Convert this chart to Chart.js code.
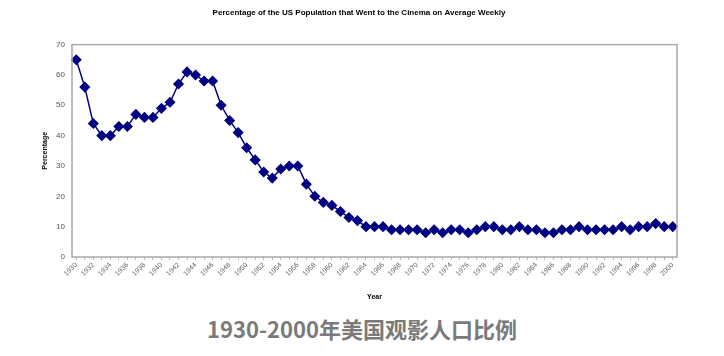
<!DOCTYPE html>
<html>
<head>
<meta charset="utf-8">
<script src="https://cdn.jsdelivr.net/npm/chart.js@4"></script>
<style>
  html, body { margin: 0; padding: 0; background: #fff; }
  #wrap { position: absolute; left: 0; top: 0; width: 724px; height: 305px; }
  #caption { position: absolute; left: 0; top: 312px; width: 724px; text-align: center; line-height: 32px;
    font-family: "Noto Sans CJK SC", "Noto Sans", sans-serif; font-weight: bold; font-size: 22px; color: #7a7a7a; }
</style>
</head>
<body>
<div id="wrap"><canvas id="c" width="724" height="305"></canvas></div>
<div id="caption">1930-2000年美国观影人口比例</div>
<script>
const years = [];
for (let y = 1930; y <= 2000; y++) years.push(String(y));
const percentage = [
  65, 56, 44, 40, 40, 43, 43, 47, 46, 46,
  49, 51, 57, 61, 60, 58, 58, 50, 45, 41,
  36, 32, 28, 26, 29, 30, 30, 24, 20, 18,
  17, 15, 13, 12, 10, 10, 10, 9, 9, 9,
  9, 8, 9, 8, 9, 9, 8, 9, 10, 10,
  9, 9, 10, 9, 9, 8, 8, 9, 9, 10,
  9, 9, 9, 9, 10, 9, 10, 10, 11, 10,
  10
];
const yTicks = [0, 10, 20, 30, 40, 50, 60, 70];
const chartTitle = 'Percentage of the US Population that Went to the Cinema on Average Weekly';

const boxPlugin = {
  id: 'box',
  afterDraw(chart) {
    const a = chart.chartArea, ctx = chart.ctx;
    ctx.save();
    ctx.strokeStyle = '#a8a8a8';
    ctx.lineWidth = 1.5;
    ctx.strokeRect(a.left, a.top, a.right - a.left, a.bottom - a.top);
    ctx.restore();
  }
};

new Chart(document.getElementById('c'), {
  type: 'line',
  data: {
    labels: years,
    datasets: [{
      data: percentage,
      borderColor: '#000080',
      backgroundColor: '#000080',
      borderWidth: 1.5,
      pointStyle: 'rectRot',
      pointRadius: 4.5,
      pointHoverRadius: 4.5,
      tension: 0
    }]
  },
  plugins: [boxPlugin],
  options: {
    responsive: false,
    animation: false,
    layout: { padding: { left: 41, right: 47, top: 0, bottom: 4 } },
    plugins: {
      legend: { display: false },
      tooltip: { enabled: false },
      title: {
        display: true,
        text: chartTitle,
        color: '#000',
        font: { family: 'Liberation Sans, Arial, sans-serif', size: 8, weight: 'bold' },
        padding: { top: 8, bottom: 27 }
      }
    },
    scales: {
      x: {
        type: 'category',
        offset: true,
        grid: { display: true, drawOnChartArea: false, tickLength: 3, color: '#bbb' },
        border: { display: false },
        ticks: {
          autoSkip: false,
          maxRotation: 45,
          minRotation: 45,
          padding: 1,
          color: '#666',
          font: { family: 'Liberation Sans, Arial, sans-serif', size: 7 },
          callback: function(v, i) { return i % 2 === 0 ? this.getLabelForValue(v) : ''; }
        },
        title: {
          display: true, text: 'Year', color: '#000',
          font: { family: 'Liberation Sans, Arial, sans-serif', size: 7, weight: 'bold' },
          padding: { top: 0, bottom: 0 }
        },
        afterFit(s) { s.height = 44; }
      },
      y: {
        min: 0, max: 70,
        afterBuildTicks(s) { s.ticks = yTicks.map(v => ({ value: v })); },
        grid: { display: false, tickLength: 0 },
        border: { display: false },
        ticks: {
          color: '#555',
          padding: 7,
          font: { family: 'Liberation Sans, Arial, sans-serif', size: 8 }
        },
        title: {
          display: true, text: 'Percentage', color: '#000',
          font: { family: 'Liberation Sans, Arial, sans-serif', size: 7, weight: 'bold' },
          padding: { top: 0, bottom: 4 }
        },
        afterFit(s) { s.width = 31; }
      }
    }
  }
});
</script>
</body>
</html>
